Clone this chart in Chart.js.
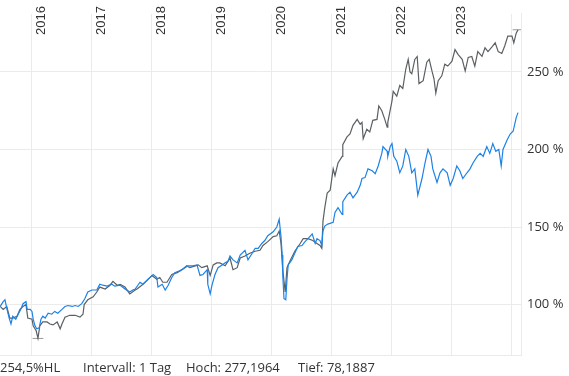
<!DOCTYPE html>
<html>
<head>
<meta charset="utf-8">
<script src="https://cdn.jsdelivr.net/npm/chart.js@4.4.0/dist/chart.umd.min.js"></script>
<style>
	html, body { margin: 0; padding: 0; background: #fff; }
	#wrap { position: relative; width: 569px; height: 376px; overflow: hidden; }
	#info span {
		position: absolute;
		top: 358px;
		font: 13px "Open Sans", sans-serif;
		color: #333;
		white-space: nowrap;
	}
</style>
</head>
<body>
<div id="wrap">
	<canvas id="chart" width="569" height="376"></canvas>
	<div id="info">
		<span style="left:0px">254,5%HL</span>
		<span style="left:83px">Intervall: 1 Tag</span>
		<span style="left:186px">Hoch: 277,1964</span>
		<span style="left:298px">Tief: 78,1887</span>
	</div>
</div>
<script>
// years shown on the top axis
const yearLabels = [2016, 2017, 2018, 2019, 2020, 2021, 2022, 2023];
const yTicks = [100, 150, 200, 250];

// blue series (decimal year / percent)
const blueDates = [
	2015.47, 2015.52, 2015.55, 2015.58, 2015.62, 2015.65, 2015.68, 2015.73, 2015.77, 2015.82,
	2015.85, 2015.90, 2015.92, 2015.97, 2016.00, 2016.02, 2016.05, 2016.08, 2016.12, 2016.15,
	2016.18, 2016.22, 2016.27, 2016.33, 2016.38, 2016.43, 2016.50, 2016.55, 2016.60, 2016.67,
	2016.72, 2016.77, 2016.83, 2016.88, 2016.93, 2017.00, 2017.08, 2017.13, 2017.18, 2017.25,
	2017.33, 2017.38, 2017.47, 2017.55, 2017.63, 2017.68, 2017.72, 2017.80, 2017.85, 2017.93,
	2018.02, 2018.08, 2018.10, 2018.17, 2018.22, 2018.27, 2018.33, 2018.38, 2018.47, 2018.55,
	2018.60, 2018.68, 2018.75, 2018.80, 2018.85, 2018.92, 2018.93, 2018.97, 2019.00, 2019.05,
	2019.10, 2019.17, 2019.22, 2019.27, 2019.30, 2019.35, 2019.42, 2019.47, 2019.55, 2019.60,
	2019.67, 2019.72, 2019.77, 2019.83, 2019.88, 2019.93, 2020.02, 2020.08, 2020.12, 2020.15,
	2020.17, 2020.18, 2020.20, 2020.23, 2020.25, 2020.27, 2020.33, 2020.38, 2020.43, 2020.50,
	2020.55, 2020.60, 2020.67, 2020.72, 2020.75, 2020.80, 2020.83, 2020.85, 2020.88, 2020.93,
	2021.02, 2021.05, 2021.10, 2021.17, 2021.18, 2021.25, 2021.30, 2021.35, 2021.42, 2021.47,
	2021.50, 2021.55, 2021.60, 2021.67, 2021.72, 2021.77, 2021.83, 2021.85, 2021.92, 2021.93,
	2021.97, 2022.00, 2022.03, 2022.08, 2022.13, 2022.18, 2022.23, 2022.28, 2022.33, 2022.38,
	2022.43, 2022.50, 2022.55, 2022.60, 2022.65, 2022.68, 2022.75, 2022.80, 2022.85, 2022.92,
	2022.97, 2023.02, 2023.08, 2023.13, 2023.18, 2023.25, 2023.30, 2023.35, 2023.42, 2023.47,
	2023.52, 2023.58, 2023.63, 2023.68, 2023.73, 2023.78, 2023.82, 2023.85, 2023.92, 2023.97,
	2024.02, 2024.07, 2024.10
];
const blueValues = [
	98.8, 101.9, 103.1, 97.5, 91.3, 87.5, 92.5, 90.6, 93.8, 97.5,
	100.6, 101.9, 96.9, 96.9, 95.6, 90.6, 86.3, 84.4, 85.0, 90.6,
	92.5, 91.3, 94.4, 93.8, 95.6, 94.4, 96.9, 98.8, 99.4, 98.8,
	99.4, 98.8, 100.6, 103.8, 108.1, 109.4, 109.4, 113.1, 112.5, 111.9,
	113.1, 111.9, 112.5, 110.0, 108.1, 109.4, 110.0, 114.4, 113.1, 116.3,
	119.4, 117.5, 111.3, 113.1, 109.4, 112.5, 117.5, 120.6, 121.9, 123.8,
	125.0, 125.0, 125.6, 118.8, 119.4, 122.5, 113.1, 106.9, 112.5, 119.4,
	123.8, 125.6, 126.9, 128.1, 131.3, 128.8, 126.9, 131.9, 135.0, 128.8,
	133.1, 136.3, 136.3, 139.4, 141.3, 144.4, 146.9, 150.0, 155.0, 143.8,
	131.9, 118.8, 103.8, 103.1, 116.3, 125.6, 128.8, 133.1, 137.5, 138.1,
	140.6, 142.5, 145.6, 139.4, 142.5, 141.3, 138.1, 147.5, 150.6, 151.9,
	153.1, 159.4, 162.5, 158.1, 166.3, 170.6, 172.5, 168.8, 172.5, 176.9,
	181.3, 181.9, 187.5, 186.3, 184.4, 189.4, 197.5, 201.9, 198.8, 195.6,
	201.9, 203.8, 195.6, 192.5, 185.0, 189.4, 200.0, 195.6, 185.0, 187.5,
	170.6, 181.3, 191.3, 200.0, 195.6, 187.5, 178.8, 185.0, 187.5, 185.0,
	176.9, 181.3, 189.4, 186.3, 181.3, 185.0, 187.5, 191.3, 195.6, 197.5,
	195.6, 201.9, 197.5, 203.8, 198.8, 200.0, 189.4, 200.0, 206.3, 210.0,
	211.9, 220.6, 223.8
];

// gray series (decimal year / percent)
const grayDates = [
	2015.47, 2015.52, 2015.58, 2015.63, 2015.68, 2015.75, 2015.80, 2015.85, 2015.90, 2015.93,
	2016.00, 2016.02, 2016.07, 2016.10, 2016.13, 2016.18, 2016.25, 2016.30, 2016.35, 2016.42,
	2016.47, 2016.50, 2016.55, 2016.63, 2016.72, 2016.80, 2016.85, 2016.87, 2016.93, 2017.02,
	2017.08, 2017.13, 2017.22, 2017.30, 2017.35, 2017.42, 2017.47, 2017.55, 2017.63, 2017.72,
	2017.75, 2017.83, 2017.92, 2018.00, 2018.08, 2018.13, 2018.18, 2018.25, 2018.33, 2018.42,
	2018.50, 2018.58, 2018.63, 2018.72, 2018.77, 2018.83, 2018.92, 2018.97, 2019.02, 2019.08,
	2019.13, 2019.22, 2019.30, 2019.35, 2019.42, 2019.47, 2019.55, 2019.63, 2019.72, 2019.80,
	2019.85, 2019.93, 2020.02, 2020.08, 2020.12, 2020.15, 2020.18, 2020.22, 2020.25, 2020.30,
	2020.38, 2020.47, 2020.52, 2020.60, 2020.68, 2020.75, 2020.80, 2020.83, 2020.85, 2020.88,
	2020.92, 2020.97, 2021.02, 2021.05, 2021.10, 2021.17, 2021.18, 2021.25, 2021.30, 2021.35,
	2021.42, 2021.47, 2021.50, 2021.52, 2021.58, 2021.63, 2021.68, 2021.75, 2021.78, 2021.83,
	2021.88, 2021.92, 2021.93, 2022.00, 2022.02, 2022.08, 2022.13, 2022.18, 2022.23, 2022.27,
	2022.30, 2022.33, 2022.38, 2022.42, 2022.45, 2022.52, 2022.58, 2022.62, 2022.67, 2022.70,
	2022.73, 2022.77, 2022.83, 2022.88, 2022.93, 2023.00, 2023.05, 2023.10, 2023.17, 2023.22,
	2023.27, 2023.33, 2023.38, 2023.43, 2023.50, 2023.55, 2023.60, 2023.67, 2023.72, 2023.77,
	2023.83, 2023.88, 2023.93, 2024.00, 2024.03, 2024.07, 2024.10
];
const grayValues = [
	98.8, 96.9, 98.8, 91.3, 91.3, 92.5, 96.9, 98.8, 100.0, 91.3,
	90.6, 86.3, 83.1, 78.2, 86.3, 88.8, 88.8, 87.5, 86.9, 88.8,
	84.4, 87.5, 91.9, 93.1, 93.1, 91.9, 93.8, 100.0, 103.1, 105.0,
	108.1, 111.3, 110.0, 112.5, 115.0, 112.5, 113.1, 111.3, 106.9, 109.4,
	110.0, 112.5, 115.6, 118.8, 116.3, 117.5, 114.4, 114.4, 119.4, 120.6,
	122.5, 125.0, 123.8, 125.0, 125.6, 123.8, 125.0, 118.8, 125.6, 126.9,
	126.9, 125.0, 130.0, 122.5, 123.8, 130.0, 131.3, 133.1, 134.4, 135.0,
	138.1, 140.6, 143.8, 144.4, 147.5, 139.4, 122.5, 108.1, 123.8, 128.1,
	134.4, 139.4, 142.5, 142.5, 141.3, 139.4, 138.1, 136.3, 153.8, 162.5,
	171.9, 173.8, 187.5, 183.1, 191.3, 195.6, 203.1, 208.1, 210.0, 215.6,
	219.4, 216.3, 217.5, 206.9, 213.1, 211.3, 218.8, 219.4, 228.1, 225.0,
	219.4, 214.4, 217.5, 231.3, 237.5, 234.4, 241.3, 239.4, 251.9, 258.1,
	250.0, 248.8, 258.1, 260.0, 242.5, 244.4, 256.3, 258.1, 250.0, 245.6,
	236.3, 244.4, 247.5, 255.0, 253.8, 256.9, 264.4, 261.3, 258.1, 250.6,
	259.4, 260.0, 253.8, 263.1, 260.0, 265.6, 263.1, 266.3, 268.8, 263.1,
	261.9, 266.9, 273.1, 273.1, 268.8, 275.0, 277.2
];

const highValue = 277.1964;
const lowValue = 78.1887;
const highDate = 2024.10;
const lowDate = 2016.10;

function toPoints(dates, values) {
	return dates.map((d, i) => ({ x: d, y: values[i] }));
}

const gridColor = '#ebebeb';

const yearLabelPlugin = {
	id: 'yearLabels',
	afterDraw(chart) {
		const ctx = chart.ctx;
		const xs = chart.scales.x;
		ctx.save();
		ctx.font = '13px "Liberation Sans", Arial, sans-serif';
		ctx.fillStyle = '#333';
		ctx.textAlign = 'left';
		ctx.textBaseline = 'alphabetic';
		yearLabels.forEach(y => {
			const px = xs.getPixelForValue(y);
			ctx.save();
			ctx.translate(px + 13, 35);
			ctx.rotate(-Math.PI / 2);
			ctx.fillText(String(y), 0, 0);
			ctx.restore();
		});
		ctx.restore();
	},
};

const config = {
	type: 'line',
	data: {
		datasets: [
			{
				label: 'blue',
				data: toPoints(blueDates, blueValues),
				borderColor: '#1c82e6',
				borderWidth: 1.2,
				pointRadius: 0,
				tension: 0,
			},
			{
				label: 'gray',
				data: toPoints(grayDates, grayValues),
				borderColor: '#5b6064',
				borderWidth: 1.2,
				pointRadius: 0,
				tension: 0,
			},
			{
				label: 'high',
				data: [{ x: highDate - 0.09, y: highValue }, { x: highDate + 0.09, y: highValue }],
				borderColor: '#9a9a9a',
				borderWidth: 1,
				pointRadius: 0,
			},
			{
				label: 'low',
				data: [{ x: lowDate - 0.09, y: lowValue }, { x: lowDate + 0.09, y: lowValue }],
				borderColor: '#9a9a9a',
				borderWidth: 1,
				pointRadius: 0,
			},
		],
	},
	options: {
		responsive: false,
		animation: false,
		devicePixelRatio: 1,
		layout: {
			padding: { left: 0, right: 0, top: 3, bottom: 21 },
		},
		plugins: {
			legend: { display: false },
			tooltip: { enabled: false },
		},
		scales: {
			x: {
				type: 'linear',
				position: 'bottom',
				min: 2015.467,
				max: 2024.15,
				ticks: {
					display: false,
					stepSize: 1,
					includeBounds: false,
				},
				grid: {
					color: gridColor,
					drawTicks: false,
				},
				border: { color: gridColor },
			},
			y: {
				type: 'linear',
				position: 'right',
				min: 67.5,
				max: 287.5,
				afterFit(scale) {
					scale.width = 48;
				},
				afterBuildTicks(scale) {
					scale.ticks = yTicks.map(v => ({ value: v }));
				},
				ticks: {
					padding: 6,
					font: { family: '"Open Sans", sans-serif', size: 13 },
					color: '#333',
					callback: v => v + ' %',
				},
				grid: {
					color: gridColor,
					drawTicks: false,
				},
				border: { color: gridColor },
			},
		},
	},
	plugins: [yearLabelPlugin],
};

new Chart(document.getElementById('chart'), config);
</script>
</body>
</html>
